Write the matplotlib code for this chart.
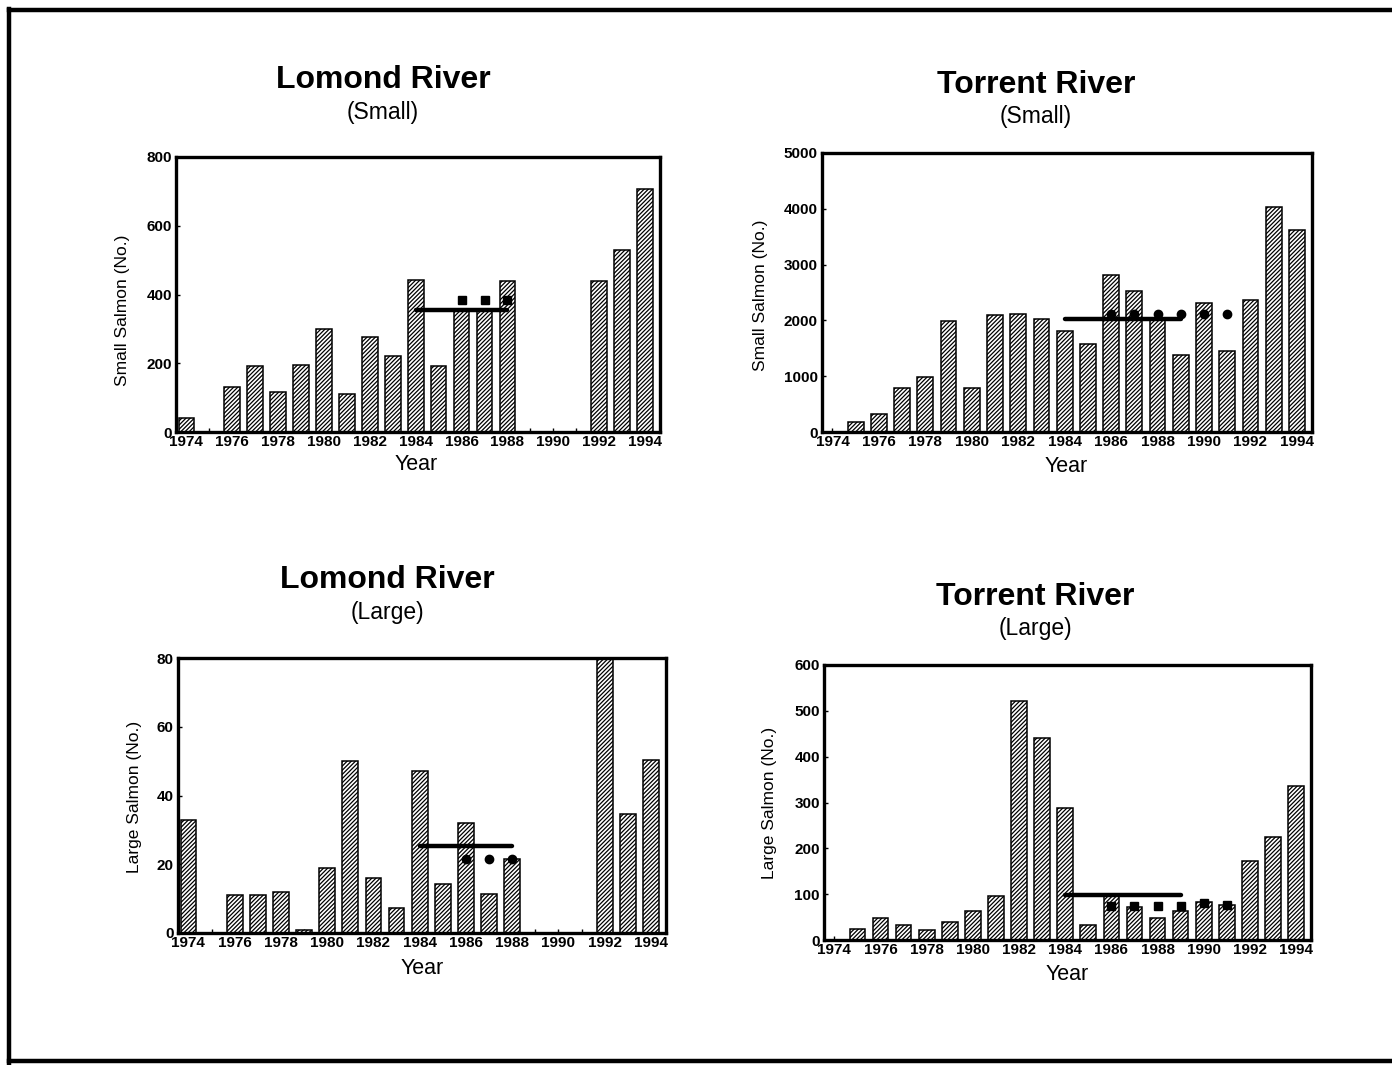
import matplotlib
matplotlib.use("Agg")
import matplotlib.pyplot as plt
from matplotlib.lines import Line2D
import numpy as np

plt.rcParams['font.family'] = ['Liberation Sans', 'DejaVu Sans']
plt.rcParams['hatch.linewidth'] = 0.9

years = list(range(1974, 1995))

lomond_small = [41, 0, 131, 191, 117, 196, 301, 110, 276, 221, 442, 192, 355, 355, 440, 0, 0, 0, 439, 529, 707]
torrent_small = [0, 181, 331, 795, 982, 1990, 795, 2102, 2120, 2018, 1807, 1572, 2819, 2530, 2040, 1386, 2319, 1446, 2367, 4036, 3620]
lomond_large = [33, 0, 11, 11, 12, 1, 19, 50, 16, 7.3, 47, 14.2, 32, 11.3, 21.5, 0, 0, 0, 80, 34.5, 50.3]
torrent_large = [0, 25, 49, 32, 21, 39, 63, 97, 522, 441, 289, 32, 95, 71, 47, 63, 84, 76, 173, 225, 335]

# mean reference lines (solid) and later-period points (dotted markers)
ls_mean_years = [1984, 1988]; ls_mean = [356, 356]
ls_dot_years = [1986, 1987, 1988]; ls_dot = [384, 384, 384]

ts_mean_years = [1984, 1989]; ts_mean = [2030, 2030]
ts_dot_years = [1986, 1987, 1988, 1989, 1990, 1991]; ts_dot = [2108, 2108, 2108, 2108, 2110, 2110]

ll_mean_years = [1984, 1988]; ll_mean = [25.3, 25.3]
ll_dot_years = [1986, 1987, 1988]; ll_dot = [21.4, 21.4, 21.4]

tl_mean_years = [1984, 1989]; tl_mean = [98, 98]
tl_dot_years = [1986, 1987, 1988, 1989, 1990, 1991]; tl_dot = [74, 74, 74, 74, 80, 76]

W, H = 1392, 1065
fig = plt.figure(figsize=(W / 100, H / 100), dpi=100)

def px_axes(l, t, r, b):
    return fig.add_axes([l / W, 1 - b / H, (r - l) / W, (b - t) / H])

panels = [
    dict(box=(176, 157, 660, 432), data=lomond_small, ymax=800, yticks=[0, 200, 400, 600, 800],
         my=ls_mean_years, mv=ls_mean, dy=ls_dot_years, dv=ls_dot, mk='s',
         title=("Lomond River", "(Small)", 383, 80, 112), ylabel=("Small Salmon (No.)", 123, 310),
         xlab=(416, 465)),
    dict(box=(822, 153, 1312, 432), data=torrent_small, ymax=5000, yticks=[0, 1000, 2000, 3000, 4000, 5000],
         my=ts_mean_years, mv=ts_mean, dy=ts_dot_years, dv=ts_dot, mk='o',
         title=("Torrent River", "(Small)", 1036, 85, 117), ylabel=("Small Salmon (No.)", 760, 295),
         xlab=(1066, 467)),
    dict(box=(178, 658, 666, 933), data=lomond_large, ymax=80, yticks=[0, 20, 40, 60, 80],
         my=ll_mean_years, mv=ll_mean, dy=ll_dot_years, dv=ll_dot, mk='o',
         title=("Lomond River", "(Large)", 387, 580, 612), ylabel=("Large Salmon (No.)", 135, 797),
         xlab=(422, 968)),
    dict(box=(824, 665, 1311, 940), data=torrent_large, ymax=600, yticks=[0, 100, 200, 300, 400, 500, 600],
         my=tl_mean_years, mv=tl_mean, dy=tl_dot_years, dv=tl_dot, mk='s',
         title=("Torrent River", "(Large)", 1035, 597, 629), ylabel=("Large Salmon (No.)", 770, 803),
         xlab=(1067, 975)),
]

for p in panels:
    ax = px_axes(*p['box'])
    ax.bar(years, p['data'], width=0.68, color='white', edgecolor='black',
           linewidth=1.1, hatch='////////', zorder=2)
    ax.plot(p['my'], p['mv'], color='black', lw=3.2, solid_capstyle='round', zorder=4)
    ax.plot(p['dy'], p['dv'], linestyle='none', marker=p['mk'], color='black',
            markersize=6, zorder=4)
    ax.set_xlim(1973.55, 1994.65)
    ax.set_ylim(0, p['ymax'])
    ax.set_xticks(list(range(1974, 1995, 2)))
    ax.set_xticks(years, minor=True)
    ax.set_yticks(p['yticks'])
    ax.tick_params(axis='both', which='both', direction='in', length=3, width=1)
    ax.tick_params(axis='both', labelsize=11)
    for lab in ax.get_xticklabels() + ax.get_yticklabels():
        lab.set_fontweight('bold')
    ax.tick_params(axis='x', pad=2)
    ax.tick_params(axis='y', pad=3)
    for s in ax.spines.values():
        s.set_linewidth(2.4)
    t1, t2, tx, ty1, ty2 = p['title']
    fig.text(tx / W, 1 - ty1 / H, t1, ha='center', va='center', fontsize=23, fontweight='bold')
    fig.text(tx / W, 1 - ty2 / H, t2, ha='center', va='center', fontsize=16.5)
    yl, yx, yy = p['ylabel']
    fig.text(yx / W, 1 - yy / H, yl, ha='center', va='center', rotation=90, fontsize=12.5)
    xx, xy = p['xlab']
    fig.text(xx / W, 1 - xy / H, "Year", ha='center', va='center', fontsize=15.5)

# page frame (top, left, bottom edges)
frame_kw = dict(color='black', lw=3.2, transform=fig.transFigure)
fig.add_artist(Line2D([9 / W, 1.0], [1 - 10 / H, 1 - 10 / H], **frame_kw))
fig.add_artist(Line2D([9 / W, 9 / W], [1 - 9 / H, 0.0], **frame_kw))
fig.add_artist(Line2D([9 / W, 1.0], [1 - 1061 / H, 1 - 1061 / H], **frame_kw))

fig.savefig("out.png", dpi=100, facecolor='white')
